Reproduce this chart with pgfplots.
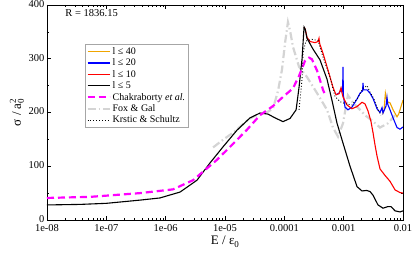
\documentclass[border=0pt]{standalone}
\usepackage{pgfplots}
\pgfplotsset{compat=1.18}
\usepackage{fontspec}
\setmainfont{Liberation Serif}
\definecolor{myorange}{RGB}{240,165,0}
\definecolor{mygray}{RGB}{212,212,212}
\definecolor{mymagenta}{RGB}{255,0,255}
\begin{document}
\begin{tikzpicture}
\begin{axis}[
  scale only axis,
  width=356pt, height=215pt,
  xmode=log,
  xmin=1e-8, xmax=1e-2,
  ymin=0, ymax=400,
  xtick={1e-8,1e-7,1e-6,1e-5,1e-4,1e-3,1e-2},
  xticklabels={1e-08,1e-07,1e-06,1e-05,0.0001,0.001,0.01},
  ytick={0,100,200,300,400},
  minor y tick num=1,
  major tick length=4pt,
  minor tick length=2pt,
  tick style={black, line width=0.5pt},
  /pgf/number format/assume math mode=true,
  tick label style={font=\fontsize{10.5}{11}\selectfont},
  yticklabel style={xshift=1pt, yshift=1pt},
  xticklabel style={yshift=-1pt},
  xlabel={E / ε\raisebox{-3pt}{\fontsize{9}{9}\selectfont 0}},
  ylabel={σ / a\rlap{\raisebox{-3pt}{\fontsize{9}{9}\selectfont 0}}\raisebox{5pt}{\fontsize{9}{9}\selectfont 2}},
  label style={font=\fontsize{13}{14}\selectfont},
  xlabel style={yshift=3pt},
  ylabel style={yshift=-2pt},
  legend cell align=left,
  legend style={at={(axis description cs:0.107,0.819)}, anchor=north west,
    draw=gray!70, font=\fontsize{10}{10}\selectfont, row sep=-1pt, inner sep=1.2pt,
    /tikz/every even column/.append style={column sep=2pt}},
  legend image code/.code={\draw[#1] (0pt,0pt) -- (22pt,0pt);},
]
% Fox & Gal (drawn behind)
\addplot[mygray, line width=2.2pt, dash pattern=on 8pt off 3pt on 1.5pt off 3pt, forget plot] coordinates {
(6.3e-6,135) (1.0e-5,152) (1.4e-5,163) (2.0e-5,178) (2.64e-5,189) (3.89e-5,198)
(5.0e-5,200) (6.44e-5,207) (7.82e-5,240) (9.14e-5,280) (1.03e-4,330) (1.15e-4,368)
(1.25e-4,352) (1.40e-4,322) (1.77e-4,285) (2.41e-4,266) (3.56e-4,236) (5.24e-4,205)
(6.61e-4,172) (8.04e-4,155) (9.75e-4,180) (1.18e-3,232) (1.44e-3,218) (1.89e-3,205)
(2.29e-3,195) (3.0e-3,185) (4.10e-3,172) (5.58e-3,180) (7.35e-3,195)
};
% l <= 40
\addplot[myorange, line width=1.1pt] coordinates {
(4.43e-3,208) (4.60e-3,199) (4.80e-3,205) (5.05e-3,236) (5.38e-3,220) (6.04e-3,218)
(6.80e-3,205) (7.93e-3,192) (8.45e-3,197) (8.91e-3,205) (1e-2,223)
};
\addlegendentry{l ≤ 40}
% l <= 20
\addplot[blue, line width=1.1pt] coordinates {
(7.43e-4,233) (8.36e-4,236) (9.38e-4,245) (9.6e-4,240) (9.75e-4,285) (9.9e-4,232)
(1.054e-3,210) (1.18e-3,205) (1.38e-3,210) (1.68e-3,225) (1.89e-3,236) (2.08e-3,240)
(2.12e-3,255) (2.16e-3,242) (2.48e-3,242) (2.78e-3,236) (3.13e-3,226) (3.65e-3,207)
(4.10e-3,200) (4.43e-3,209) (4.60e-3,199) (5.18e-3,212) (5.38e-3,228) (5.55e-3,215)
(6.04e-3,205) (6.80e-3,190) (7.93e-3,172) (8.91e-3,169) (1e-2,173)
};
\addlegendentry{l ≤ 20}
% l <= 10
\addplot[red, line width=1.1pt] coordinates {
(2.15e-4,359) (2.25e-4,355) (2.41e-4,340) (2.71e-4,332) (3.29e-4,330) (3.70e-4,332)
(3.84e-4,338) (3.95e-4,328) (4.49e-4,310) (5.44e-4,279) (6.61e-4,247) (7.43e-4,233)
(8.36e-4,235) (9.02e-4,246) (9.3e-4,238) (9.75e-4,229) (1.14e-3,214) (1.38e-3,207)
(1.68e-3,211) (2.04e-3,219) (2.29e-3,216) (2.57e-3,203) (2.89e-3,183) (3.13e-3,162)
(3.37e-3,140) (3.65e-3,119) (4.10e-3,95) (4.97e-3,83) (6.04e-3,72) (7.35e-3,56)
(8.91e-3,51) (1e-2,50)
};
\addlegendentry{l ≤ 10}
% l <= 5
\addplot[black, line width=1.1pt] coordinates {
(1e-8,28) (3.6e-8,29) (1e-7,31) (3.7e-7,37) (8.0e-7,41) (1.75e-6,52) (3.37e-6,74)
(5.58e-6,106) (9.25e-6,136) (1.59e-5,167) (2.64e-5,190) (3.89e-5,199) (5.31e-5,197)
(6.97e-5,190) (9.5e-5,183) (1.25e-4,189) (1.58e-4,205) (1.77e-4,247) (1.99e-4,300)
(2.07e-4,330) (2.15e-4,359) (2.25e-4,355) (2.41e-4,338) (3.04e-4,318) (3.99e-4,298)
(5.24e-4,262) (6.37e-4,222) (7.73e-4,180) (9.75e-4,143) (1.28e-3,100) (1.68e-3,62)
(2.04e-3,54) (2.45e-3,55) (2.78e-3,53) (3.13e-3,46) (3.79e-3,28) (4.60e-3,22)
(5.58e-3,25) (6.28e-3,25) (7.35e-3,17) (8.91e-3,15) (1e-2,17)
};
\addlegendentry{l ≤ 5}
% Chakraborty et al.
\addplot[mymagenta, line width=2.2pt, dash pattern=on 7pt off 4pt] coordinates {
(1e-8,41) (5.31e-8,43) (3.7e-7,50) (1.33e-6,57) (2.89e-6,74) (7.33e-6,112)
(1.59e-5,149) (2.35e-5,168) (3.89e-5,195) (6.44e-5,212) (9.5e-5,229) (1.40e-4,245)
(1.77e-4,268) (2.23e-4,296) (2.61e-4,302) (2.92e-4,299) (3.56e-4,278) (4.49e-4,242)
(5.0e-4,230)
};
\addlegendentry{Chakraborty \textit{et al.}}
\addlegendimage{mygray, line width=2.2pt, dash pattern=on 8pt off 3pt on 1.5pt off 3pt}
\addlegendentry{Fox \& Gal}
% Krstic & Schultz
\addplot[black, line width=0.9pt, dotted] coordinates {
(1.77e-4,205) (1.99e-4,262) (2.07e-4,312) (2.32e-4,333) (2.92e-4,336) (3.70e-4,334)
(4.49e-4,303) (5.89e-4,266) (7.14e-4,230) (8.69e-4,220) (1.10e-3,216) (1.38e-3,214)
(1.75e-3,228) (2.12e-3,245) (2.48e-3,250) (2.78e-3,238) (3.24e-3,225) (3.79e-3,205)
(4.26e-3,195)
};
\addlegendentry{Krstic \& Schultz}
\node[anchor=west, font=\fontsize{10.5}{11}\selectfont] at (axis description cs:0.042,0.963) {R = 1836.15};
\end{axis}
\pgfresetboundingbox
\path (current axis.south west) ++(-47pt,-33pt) rectangle ++(415pt,253pt);
\end{tikzpicture}
\end{document}
